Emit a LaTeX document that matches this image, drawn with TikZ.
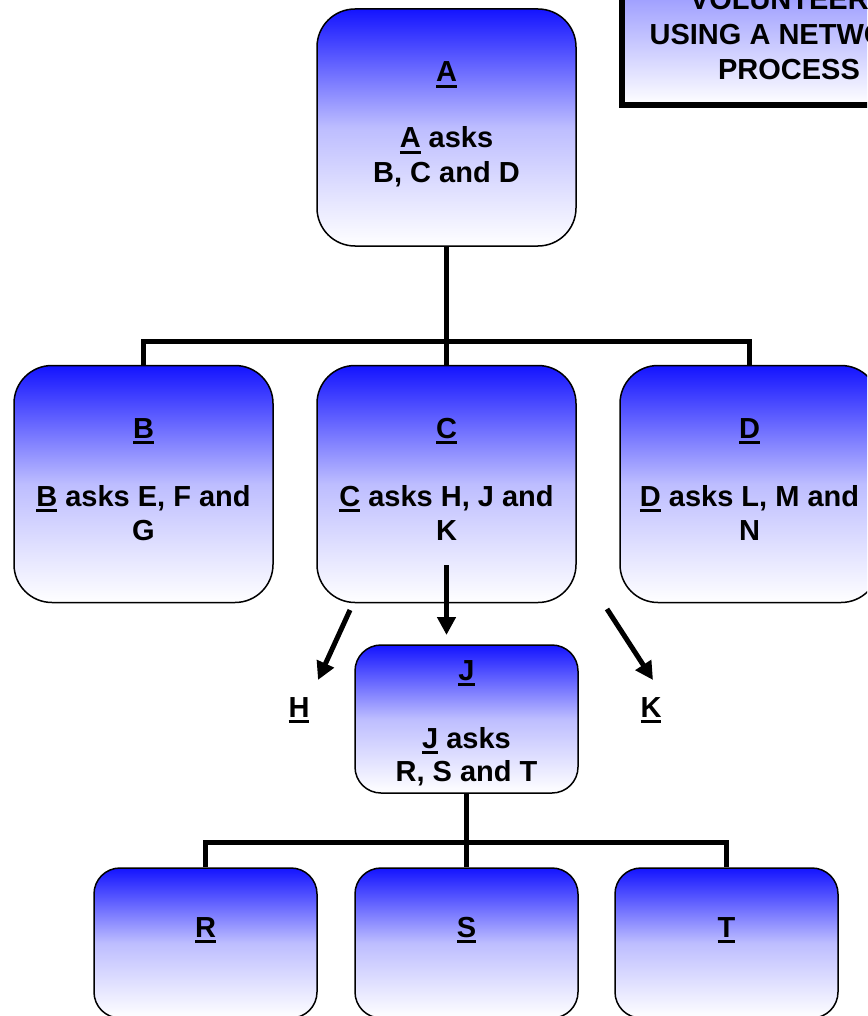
\documentclass[tikz,border=0pt]{standalone}
\usepackage{fontspec}
\setmainfont{Liberation Sans}
\usetikzlibrary{arrows.meta}
\definecolor{boxblue}{RGB}{20,20,255}
\newcommand\ul[1]{\setbox0=\hbox{#1}\rlap{\rule[-6pt]{\wd0}{3pt}}\box0\relax}
\tikzset{
 box/.style={draw=black, line width=1.5pt, rounded corners=38pt, top color=boxblue, bottom color=white, middle color=boxblue!28!white, minimum width=259pt, minimum height=237pt, inner sep=0pt},
 smallbox/.style={box, rounded corners=26pt, minimum width=223pt, minimum height=148pt},
 leafbox/.style={smallbox, minimum height=150pt},
 titlebox/.style={draw=black, line width=6pt, top color=boxblue!55!white, bottom color=white, minimum width=334pt, minimum height=145pt, inner sep=0pt},
 txt/.style={anchor=base, inner sep=0pt, font=\fontsize{29}{34}\selectfont\bfseries},
 conn/.style={line width=5pt, line join=miter},
 arr/.style={conn, -{Triangle[length=18pt,width=18pt]}},
}
\begin{document}
\begin{tikzpicture}[x=1pt,y=-1pt]
\useasboundingbox (0,0) rectangle (867,1016);
\clip (0,0) rectangle (867,1016);
% title box
\node[titlebox] (title) at (789,32.5) {};
\node[txt] (ti1) at (789,10) {VOLUNTEERS};
\node[txt] (ti2) at (789,45) {USING A NETWORK};
\node[txt] (ti3) at (789,80) {PROCESS};
% boxes
\node[box] (A) at (446.5,127.5) {};
\node[box] (B) at (143.5,484) {};
\node[box] (C) at (446.5,484) {};
\node[box] (D) at (749.5,484) {};
\node[smallbox] (J) at (466.5,719) {};
\node[leafbox] (R) at (205.5,943) {};
\node[leafbox] (S) at (466.5,943) {};
\node[leafbox] (T) at (726.5,943) {};
% connectors
\draw[conn] (A.south) -- (C.north);
\draw[conn] (B.north) -- ++(0,-23) -| (D.north);
\draw[conn] (J.south) -- (S.north);
\draw[conn] (R.north) -- ++(0,-25) -| (T.north);
\coordinate (cc0) at (446.5,565);
\coordinate (cc1) at (446.5,635);
\coordinate (cl0) at (350,610);
\coordinate (cl1) at (318,680);
\coordinate (cr0) at (607,609);
\coordinate (cr1) at (653,680);
\draw[arr] (cc0) -- (cc1);
\draw[arr] (cl0) -- (cl1);
\draw[arr] (cr0) -- (cr1);
% texts
\node[txt] (a1) at (446.5,82) {\ul{A}};
\node[txt] (a2) at (446.5,148) {\ul{A} asks};
\node[txt] (a3) at (446.5,183) {B, C and D};
\node[txt] (b1) at (143.5,438) {\ul{B}};
\node[txt] (b2) at (143.5,506) {\ul{B} asks E, F and};
\node[txt] (b3) at (143.5,540) {G};
\node[txt] (c1) at (446.5,438) {\ul{C}};
\node[txt] (c2) at (446.5,506) {\ul{C} asks H, J and};
\node[txt] (c3) at (446.5,540) {K};
\node[txt] (d1) at (749.5,438) {\ul{D}};
\node[txt] (d2) at (749.5,506) {\ul{D} asks L, M and};
\node[txt] (d3) at (749.5,540) {N};
\node[txt] (j1) at (466.5,680) {\ul{J}};
\node[txt] (j2) at (466.5,748) {\ul{J} asks};
\node[txt] (j3) at (466.5,781) {R, S and T};
\node[txt] (H) at (299,717) {\ul{H}};
\node[txt] (K) at (651,717) {\ul{K}};
\node[txt] (r1) at (205.5,937) {\ul{R}};
\node[txt] (s1) at (466.5,937) {\ul{S}};
\node[txt] (t1) at (726.5,937) {\ul{T}};
\end{tikzpicture}
\end{document}
